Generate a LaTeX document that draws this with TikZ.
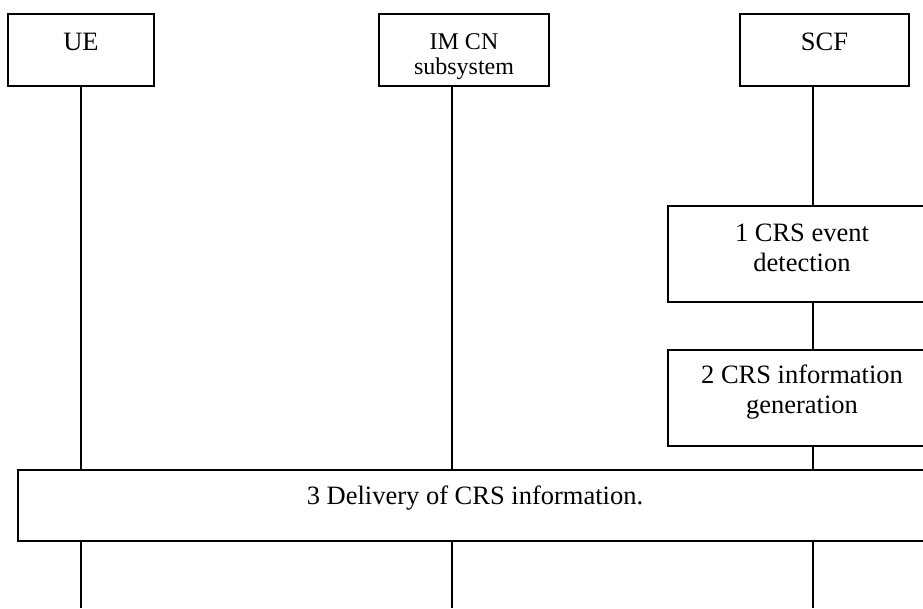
\documentclass[tikz,border=0pt]{standalone}
\usepackage{fontspec}
\setmainfont{Liberation Serif}
\usetikzlibrary{positioning}
\tikzset{
  ent/.style={rectangle, draw=black, line width=1.5pt, fill=white, inner sep=0pt},
  txt/.style={anchor=base, align=center, inner sep=0pt,
              font=\fontsize{26.5}{30}\selectfont},
  life/.style={line width=1.5pt}
}
\begin{document}
\begin{tikzpicture}[x=1pt, y=-1pt]
  \useasboundingbox (0,0) rectangle (923,608);

  %% Entities
  \node[ent, minimum width=146pt, minimum height=72pt] (ue)   at (81,50)    {};
  \node[ent, minimum width=170pt, minimum height=72pt] (imcn) at (464,50)   {};
  \node[ent, minimum width=169pt, minimum height=72pt] (scf)  at (824.5,50) {};
  \node[txt] (uelbl)   at ([yshift=-37pt]ue.north)   {UE};
  \node[txt, font=\fontsize{24}{25}\selectfont] (imcnlbl) at ([yshift=-61pt]imcn.north)
    {IM CN\\subsystem};
  \node[txt] (scflbl)  at ([yshift=-37pt]scf.north)  {SCF};

  %% Lifeline ends
  \coordinate (ueend)   at (81,608);
  \coordinate (imend)   at (452,608);
  \coordinate (scfend)  at (813,608);

  %% Actions
  \node[ent, minimum width=268pt, minimum height=96pt] (det) at (802,254)   {};
  \node[ent, minimum width=268pt, minimum height=96pt] (gen) at (802,398)   {};
  \node[ent, minimum width=914pt, minimum height=71pt] (dlv) at (475,505.5) {};
  \node[txt] (detlbl) at ([yshift=-66pt]det.north) {1 CRS event\\detection};
  \node[txt] (genlbl) at ([yshift=-64pt]gen.north) {2 CRS information\\generation};
  \node[txt] (dlvlbl) at ([yshift=-35pt]dlv.north) {3 Delivery of CRS information.};

  %% Lifelines
  \draw[life] (ue.south) -- (dlv.north -| ue);
  \draw[life] (dlv.south -| ue) -- (ueend);
  \draw[life] (imcn.south -| imend) -- (dlv.north -| imend);
  \draw[life] (dlv.south -| imend) -- (imend);
  \draw[life] (scf.south -| scfend) -- (det.north -| scfend);
  \draw[life] (det.south -| scfend) -- (gen.north -| scfend);
  \draw[life] (gen.south -| scfend) -- (dlv.north -| scfend);
  \draw[life] (dlv.south -| scfend) -- (scfend);

\end{tikzpicture}
\end{document}
